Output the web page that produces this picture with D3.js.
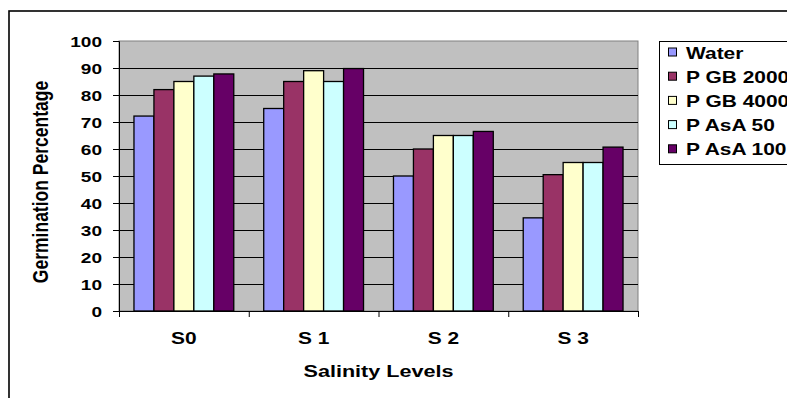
<!DOCTYPE html>
<html>
<head>
<meta charset="utf-8">
<script src="https://cdn.jsdelivr.net/npm/d3@7"></script>
<style>
  html, body { margin: 0; padding: 0; background: #fff; }
  svg { display: block; }
  text { font-family: "Liberation Sans", Arial, sans-serif; font-weight: bold; fill: #000; }
</style>
</head>
<body>
<svg id="chart" width="787" height="398"></svg>
<script>
// Salinity levels on the x axis
const categories = ["S0", "S 1", "S 2", "S 3"];
// Treatments shown as bars in each group
const seriesNames = ["Water", "P GB 2000", "P GB 4000", "P AsA 50", "P AsA 100"];
const seriesColors = ["#9999FF", "#993366", "#FFFFCC", "#CCFFFF", "#660066"];
// Germination percentage per treatment, one value per salinity level
const water   = [72.2, 75, 50, 34.5];
const pGb2000 = [82, 85, 60, 50.5];
const pGb4000 = [85, 89, 65, 55];
const pAsa50  = [87, 85, 65, 55];
const pAsa100 = [87.8, 89.8, 66.5, 60.7];
const seriesValues = [water, pGb2000, pGb4000, pAsa50, pAsa100];
const yTicks = [0, 10, 20, 30, 40, 50, 60, 70, 80, 90, 100];

const svg = d3.select("#chart");
const SX = 1.27; // wide lettering

function stretchedText(sel, x, y, str, size, anchor, rotate) {
  return sel.append("text")
    .attr("transform", `translate(${x},${y})` + (rotate ? ` rotate(${rotate}) scale(1,${SX})` : ` scale(${SX},1)`))
    .attr("text-anchor", anchor)
    .attr("font-size", size)
    .text(str);
}

// outer frame
svg.append("rect")
  .attr("x", 9).attr("y", 11).attr("width", 900).attr("height", 500)
  .attr("fill", "#fff").attr("stroke", "#000").attr("stroke-width", 1.6);

const plot = { left: 119, top: 41, right: 638, bottom: 311 };

const x0 = d3.scaleBand().domain(categories).range([plot.left, plot.right]).paddingInner(0).paddingOuter(0);
const x1 = d3.scaleBand().domain(seriesNames).range([0, x0.bandwidth()]).paddingInner(0).paddingOuter(0.75);
const y = d3.scaleLinear().domain([0, 100]).range([plot.bottom, plot.top]);

// plot background
svg.append("rect")
  .attr("x", plot.left).attr("y", plot.top)
  .attr("width", plot.right - plot.left).attr("height", plot.bottom - plot.top)
  .attr("fill", "#C0C0C0").attr("stroke", "#808080").attr("stroke-width", 1);

// horizontal gridlines
svg.append("g").selectAll("line")
  .data(yTicks.filter(d => d > 0 && d < 100))
  .join("line")
  .attr("x1", plot.left).attr("x2", plot.right)
  .attr("y1", d => Math.round(y(d)) + 0.5).attr("y2", d => Math.round(y(d)) + 0.5)
  .attr("stroke", "#000").attr("stroke-width", 1);

// bars
const groups = svg.append("g").selectAll("g")
  .data(categories)
  .join("g")
  .attr("transform", d => `translate(${x0(d)},0)`);

groups.selectAll("rect")
  .data((c, ci) => seriesNames.map((s, si) => ({ s, si, v: seriesValues[si][ci] })))
  .join("rect")
  .attr("x", d => x1(d.s))
  .attr("width", x1.bandwidth())
  .attr("y", d => y(d.v))
  .attr("height", d => y(0) - y(d.v))
  .attr("fill", d => seriesColors[d.si])
  .attr("stroke", "#000").attr("stroke-width", 1.3);

// y axis
const yAxis = d3.axisLeft(y).tickValues(yTicks).tickSize(6).tickFormat(() => "");
const gy = svg.append("g").attr("transform", `translate(${plot.left},0)`).call(yAxis);
gy.select(".domain").attr("stroke", "#000");
gy.selectAll(".tick line").attr("stroke", "#000");
yTicks.forEach(t => stretchedText(svg, 102, y(t) + 5.5, String(t), 15, "end"));

// x axis
const boundaries = categories.map(c => x0(c)).concat([plot.right]);
const xAxis = d3.axisBottom(d3.scaleLinear().domain([plot.left, plot.right]).range([plot.left, plot.right]))
  .tickValues(boundaries).tickSize(6).tickFormat(() => "");
const gx = svg.append("g").attr("transform", `translate(0,${plot.bottom})`).call(xAxis);
gx.select(".domain").attr("stroke", "#000");
gx.selectAll(".tick line").attr("stroke", "#000");
categories.forEach(c => stretchedText(svg, x0(c) + x0.bandwidth() / 2, 344, c, 16.5, "middle"));

// axis titles
stretchedText(svg, (plot.left + plot.right) / 2, 376.5, "Salinity Levels", 17, "middle");
stretchedText(svg, 48, (plot.top + plot.bottom) / 2 + 6, "Germination Percentage", 17.5, "middle", -90);

// legend
const lg = svg.append("g");
lg.append("rect")
  .attr("x", 659.5).attr("y", 41.5).attr("width", 200).attr("height", 123)
  .attr("fill", "#fff").attr("stroke", "#000").attr("stroke-width", 1);
seriesNames.forEach((s, i) => {
  const cy = 52.5 + i * 24.2;
  lg.append("rect")
    .attr("x", 668.5).attr("y", cy - 4.5).attr("width", 8).attr("height", 8)
    .attr("fill", seriesColors[i]).attr("stroke", "#000").attr("stroke-width", 1);
  stretchedText(lg, 686, cy + 6, s, 16.5, "start");
});
</script>
</body>
</html>
